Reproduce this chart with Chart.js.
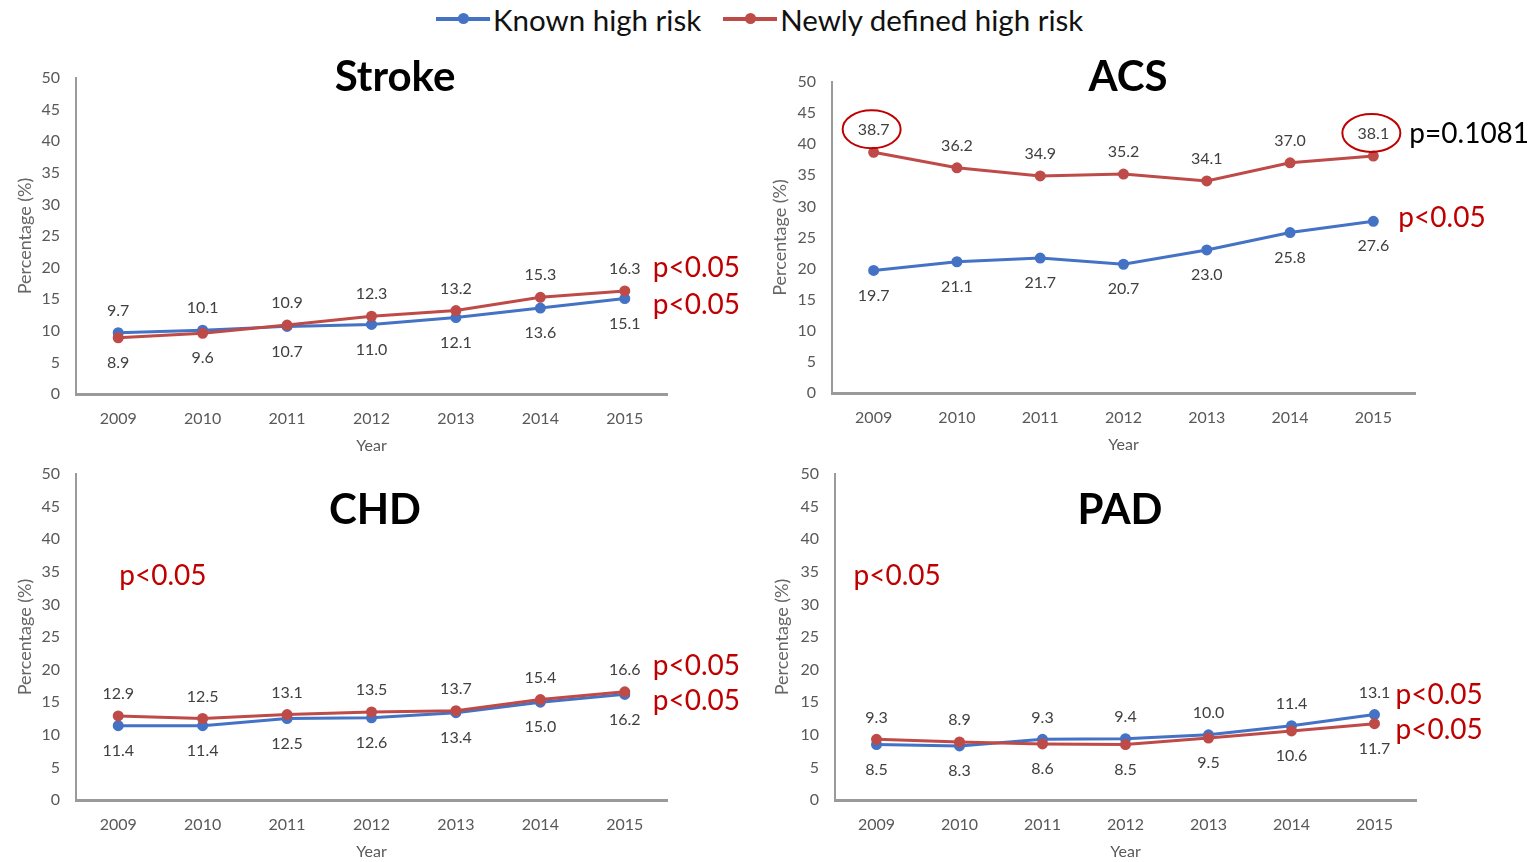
<!DOCTYPE html>
<html>
<head>
<meta charset="utf-8">
<title>High risk trends</title>
<script src="https://cdn.jsdelivr.net/npm/chart.js@4.4.0/dist/chart.umd.min.js"></script>
<style>
  body { margin: 0; width: 1537px; height: 862px; background: #fff; position: relative; overflow: hidden; font-family: Lato, sans-serif; }
  canvas { position: absolute; }
  #legend { position: absolute; top: 0; left: 436px; height: 38px; display: flex; align-items: center; font-size: 29.5px; color: #111; white-space: nowrap; }
  .item { display: flex; align-items: center; margin-right: 22px; }
  .swatch { position: relative; width: 54px; height: 4px; margin-right: 3px; }
  .swatch::after { content: ''; position: absolute; left: 22px; top: -4px; width: 11px; height: 11px; border-radius: 50%; background: inherit; }
</style>
</head>
<body>
<div id="legend"></div>
<canvas id="stroke"></canvas>
<canvas id="acs"></canvas>
<canvas id="chd"></canvas>
<canvas id="pad"></canvas>
<script>
const years = ['2009', '2010', '2011', '2012', '2013', '2014', '2015'];
const seriesNames = ['Known high risk', 'Newly defined high risk'];

const strokeKnown = [9.7, 10.1, 10.7, 11.0, 12.1, 13.6, 15.1];
const strokeNew   = [8.9, 9.6, 10.9, 12.3, 13.2, 15.3, 16.3];

const acsKnown = [19.7, 21.1, 21.7, 20.7, 23.0, 25.8, 27.6];
const acsNew   = [38.7, 36.2, 34.9, 35.2, 34.1, 37.0, 38.1];

const chdKnown = [11.4, 11.4, 12.5, 12.6, 13.4, 15.0, 16.2];
const chdNew   = [12.9, 12.5, 13.1, 13.5, 13.7, 15.4, 16.6];

const padKnown = [8.5, 8.3, 9.3, 9.4, 10.0, 11.4, 13.1];
const padNew   = [9.3, 8.9, 8.6, 8.5, 9.5, 10.6, 11.7];

const yMin = 0, yMax = 50, yStep = 5;

const BLUE = '#4472C4';
const RED = '#BE4B48';
const NOTE_RED = '#C00000';
const AXIS = '#9A9A9A';
const GREY = '#595959';

const TICK_SIZE = 16;
const YTITLE_SIZE = 18;

// legend row
const legend = document.getElementById('legend');
[BLUE, RED].forEach((c, i) => {
  const item = document.createElement('span');
  item.className = 'item';
  const sw = document.createElement('i');
  sw.className = 'swatch';
  sw.style.background = c;
  item.appendChild(sw);
  item.appendChild(document.createTextNode(seriesNames[i]));
  legend.appendChild(item);
});

// titles, value labels and p-value notes drawn on top of each panel
const panelDecor = {
  id: 'panelDecor',
  afterDatasetsDraw(chart, args, opts) {
    const ctx = chart.ctx;
    const xs = chart.scales.x, ys = chart.scales.y;
    const known = chart.getDatasetMeta(0), newly = chart.getDatasetMeta(1);
    const kv = chart.data.datasets[0].data, nv = chart.data.datasets[1].data;
    ctx.save();
    ctx.textAlign = 'center';
    ctx.textBaseline = 'middle';

    ctx.font = 'bold 42px Lato';
    ctx.fillStyle = '#000';
    ctx.fillText(opts.title, opts.titleX, opts.titleY);

    ctx.font = '16px Lato';
    ctx.fillStyle = '#404040';
    const labelPos = [[], []];
    kv.forEach((v, i) => {
      const kp = known.data[i], np = newly.data[i];
      const knownUp = v >= nv[i];
      const top = knownUp ? kp : np, bottom = knownUp ? np : kp;
      const topY = top.y - 22, botY = bottom.y + 25;
      ctx.fillText((knownUp ? v : nv[i]).toFixed(1), top.x, topY);
      ctx.fillText((knownUp ? nv[i] : v).toFixed(1), bottom.x, botY);
      labelPos[0][i] = { x: kp.x, y: knownUp ? topY : botY };
      labelPos[1][i] = { x: np.x, y: knownUp ? botY : topY };
    });

    // rings around selected labels
    ctx.strokeStyle = NOTE_RED;
    ctx.lineWidth = 2;
    (opts.circled || []).forEach(c => {
      const p = labelPos[c.series][c.index];
      ctx.beginPath();
      ctx.ellipse(p.x - 2, p.y - 1, 29, 19, 0, 0, Math.PI * 2);
      ctx.stroke();
    });

    ctx.font = '28px Lato';
    ctx.textAlign = 'left';
    (opts.notes || []).forEach(n => {
      ctx.fillStyle = n.color || NOTE_RED;
      ctx.fillText(n.text, xs.getPixelForValue(n.index) + n.dx, ys.getPixelForValue(n.value));
    });
    ctx.restore();
  }
};

function buildPanel(id, known, newly, layout, decor) {
  const canvas = document.getElementById(id);
  const b = layout.box, p = layout.plot;
  canvas.style.left = b.left + 'px';
  canvas.style.top = b.top + 'px';
  canvas.width = b.width;
  canvas.height = b.height;

  // axis titles are drawn half a line height in from the scale edge
  const yHalf = YTITLE_SIZE * 0.6, xHalf = TICK_SIZE * 0.6;
  const padLeft = layout.yTitleX - yHalf - b.left;
  const yWidth = p.x0 - b.left - padLeft;
  const padTop = p.y0 - b.top;
  const padRight = b.left + b.width - p.x1;
  const padBottom = b.top + b.height - (layout.xTitleY + xHalf);
  const xHeight = layout.xTitleY + xHalf - p.y1;

  const tickFont = { family: 'Lato', size: TICK_SIZE };
  const line = (label, data, color, order) => ({
    label, data, order,
    borderColor: color,
    backgroundColor: color,
    pointBackgroundColor: color,
    pointBorderColor: color,
    borderWidth: 3,
    pointRadius: 4,
    tension: 0
  });

  return new Chart(canvas, {
    type: 'line',
    data: {
      labels: years,
      datasets: [
        line(seriesNames[0], known, BLUE, 1),
        line(seriesNames[1], newly, RED, 0)
      ]
    },
    options: {
      responsive: false,
      animation: false,
      events: [],
      layout: {
        autoPadding: false,
        padding: { left: padLeft, top: padTop, right: padRight, bottom: padBottom }
      },
      plugins: {
        legend: { display: false },
        tooltip: { enabled: false },
        panelDecor: {
          ...decor,
          titleX: decor.titleX - b.left,
          titleY: decor.titleY - b.top
        }
      },
      scales: {
        x: {
          offset: true,
          grid: { display: false, drawTicks: false },
          border: { display: true, color: AXIS, width: 3 },
          ticks: { font: tickFont, color: GREY, padding: 15, maxRotation: 0 },
          title: { display: true, text: 'Year', font: tickFont, color: GREY, padding: 0 },
          afterFit: s => { s.height = xHeight; }
        },
        y: {
          min: yMin,
          max: yMax,
          grid: { display: false, drawTicks: false },
          border: { display: true, color: AXIS, width: 2 },
          ticks: { stepSize: yStep, font: tickFont, color: GREY, padding: 16 },
          title: { display: true, text: 'Percentage (%)', font: { family: 'Lato', size: YTITLE_SIZE }, color: '#666', padding: 0 },
          afterFit: s => { s.width = yWidth; }
        }
      }
    },
    plugins: [panelDecor]
  });
}

buildPanel('stroke', strokeKnown, strokeNew, {
  box: { left: 0, top: 45, width: 768, height: 420 },
  plot: { x0: 76, x1: 667, y0: 78, y1: 394 },
  yTitleX: 25, xTitleY: 446
}, {
  title: 'Stroke', titleX: 395, titleY: 77,
  notes: [
    { text: 'p<0.05', index: 6, dx: 28, value: 19.9 },
    { text: 'p<0.05', index: 6, dx: 28, value: 14.1 }
  ]
});

buildPanel('acs', acsKnown, acsNew, {
  box: { left: 760, top: 45, width: 777, height: 420 },
  plot: { x0: 832, x1: 1415, y0: 82, y1: 393 },
  yTitleX: 780, xTitleY: 445
}, {
  title: 'ACS', titleX: 1128, titleY: 77,
  notes: [
    { text: 'p=0.1081', index: 6, dx: 36, value: 41.6, color: '#000' },
    { text: 'p<0.05', index: 6, dx: 25, value: 28.1 }
  ],
  circled: [{ series: 1, index: 0 }, { series: 1, index: 6 }]
});

buildPanel('chd', chdKnown, chdNew, {
  box: { left: 0, top: 440, width: 768, height: 422 },
  plot: { x0: 76, x1: 667, y0: 474, y1: 800 },
  yTitleX: 25, xTitleY: 852
}, {
  title: 'CHD', titleX: 375, titleY: 510,
  notes: [
    { text: 'p<0.05', index: 0, dx: 1, value: 34.4 },
    { text: 'p<0.05', index: 6, dx: 28, value: 20.6 },
    { text: 'p<0.05', index: 6, dx: 28, value: 15.2 }
  ]
});

buildPanel('pad', padKnown, padNew, {
  box: { left: 760, top: 440, width: 777, height: 422 },
  plot: { x0: 835, x1: 1416, y0: 474, y1: 800 },
  yTitleX: 782, xTitleY: 852
}, {
  title: 'PAD', titleX: 1120, titleY: 510,
  notes: [
    { text: 'p<0.05', index: 0, dx: -23, value: 34.4 },
    { text: 'p<0.05', index: 6, dx: 21, value: 16.1 },
    { text: 'p<0.05', index: 6, dx: 21, value: 10.7 }
  ]
});
</script>
</body>
</html>
